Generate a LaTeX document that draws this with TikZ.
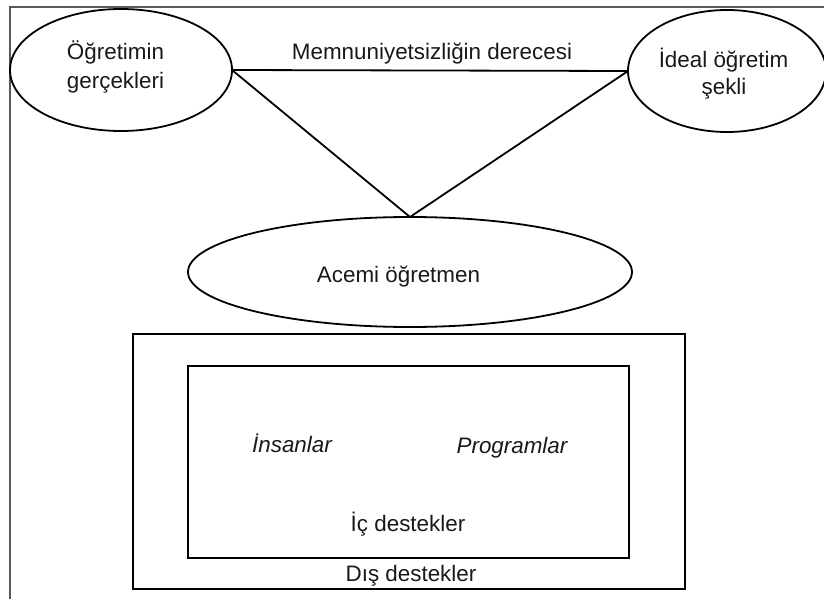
\documentclass[tikz,border=0pt]{standalone}
\usepackage{fontspec}
\setmainfont{Liberation Sans}
\usetikzlibrary{shapes.geometric}

\tikzset{
  oval/.style={ellipse, draw=black, line width=1.8pt, inner sep=0pt, outer sep=0pt},
  box/.style={rectangle, draw=black, line width=1.9pt, inner sep=0pt, outer sep=0pt},
  link/.style={draw=black, line width=1.8pt},
  frameline/.style={draw=black!65, line width=1.2pt},
  lbl/.style={anchor=base, inner sep=0pt, text=black!90,
              font=\fontsize{22.4}{29}\selectfont},
  ilbl/.style={lbl, font=\fontsize{22.4}{29}\selectfont\itshape}
}

\begin{document}
\begin{tikzpicture}[x=1pt, y=-1pt]
  \useasboundingbox (0,0) rectangle (824,599);

  % page frame (top and left edges)
  \coordinate (f1) at (824,7);
  \coordinate (f2) at (10,7);
  \coordinate (f3) at (10,599);
  \draw[frameline] (f1) -- (f2) -- (f3);

  % support boxes
  \node[box, minimum width=552pt, minimum height=255pt] (outer) at (409,461.5) {};
  \node[box, minimum width=441pt, minimum height=192pt] (inner) at (408.5,462) {};

  % ellipses
  \node[oval, minimum width=222pt, minimum height=122pt] (real) at (121,70) {};
  \node[oval, minimum width=198pt, minimum height=122pt] (ideal) at (727,71) {};
  \node[oval, minimum width=444pt, minimum height=110pt] (novice) at (410,272) {};

  % connectors
  \draw[link] (real.east) -- (ideal.west);
  \draw[link] (real.east) -- (novice.north);
  \draw[link] (ideal.west) -- (novice.north);

  % texts
  \node[lbl] (t1a) at (115.5,60) {Öğretimin};
  \node[lbl] (t1b) at (115.5,89) {gerçekleri};
  \node[lbl] (t2a) at (723.5,68) {İdeal öğretim};
  \node[lbl] (t2b) at (724,95) {şekli};
  \node[lbl] (t3) at (432,60) {Memnuniyetsizliğin derecesi};
  \node[lbl] (t4) at (398.5,282) {Acemi öğretmen};
  \node[ilbl] (t5) at (292,452) {İnsanlar};
  \node[ilbl] (t6) at (512,453) {Programlar};
  \node[lbl] (t7) at (408,531) {İç destekler};
  \node[lbl] (t8) at (411,581) {Dış destekler};
\end{tikzpicture}
\end{document}
